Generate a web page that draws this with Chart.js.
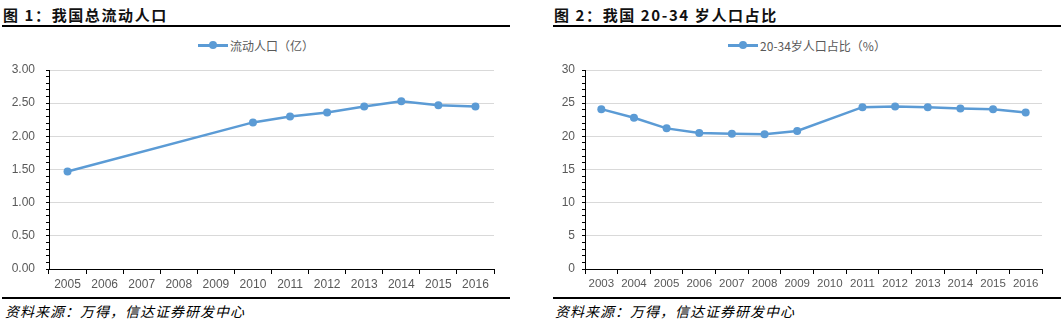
<!DOCTYPE html>
<html>
<head>
<meta charset="utf-8">
<script src="https://cdn.jsdelivr.net/npm/chart.js@4.4.0/dist/chart.umd.min.js"></script>
<style>
    body { margin: 0; background: #fff; width: 1061px; height: 321px; position: relative; overflow: hidden; }
    .titulo { position: absolute; top: 4px; font-family: "Noto Sans CJK SC", sans-serif; font-weight: bold; font-size: 15px; letter-spacing: 1.6px; color: #111; }
    .linha { position: absolute; height: 2px; background: #000; }
    .fonte { position: absolute; top: 301px; font-family: "Noto Sans CJK SC", serif; font-style: italic; font-size: 14px; letter-spacing: 1px; color: #000; }
    .caixa { position: absolute; }
    .legenda { position: absolute; top: 36px; height: 18px; display: flex; justify-content: center; align-items: center;
               font-family: "Noto Sans CJK SC", sans-serif; font-size: 12px; color: #595959; }
    .icone { position: relative; display: inline-block; width: 30px; height: 3px; background: #5b9bd5; margin-right: 2px; }
    .icone::after { content: ""; position: absolute; left: 11px; top: -2.5px; width: 8px; height: 8px; border-radius: 50%; background: #5b9bd5; }
</style>
</head>
<body>
<div class="titulo" style="left:3px;">图 1：我国总流动人口</div>
<div class="linha" style="left:2px; width:508px; top:25px;"></div>
<div class="titulo" style="left:554px;">图 2：我国 20-34 岁人口占比</div>
<div class="linha" style="left:553px; width:508px; top:25px;"></div>

<div class="legenda" id="legendaFluxo" style="left:0px; width:512px;"></div>
<div class="legenda" id="legendaJovens" style="left:553px; width:508px;"></div>

<div class="caixa" style="left:0px; top:27px; width:510px; height:273px;"><canvas id="graficoFluxo"></canvas></div>
<div class="caixa" style="left:553px; top:27px; width:508px; height:273px;"><canvas id="graficoJovens"></canvas></div>

<div class="linha" style="left:2px; width:508px; top:297px;"></div>
<div class="linha" style="left:553px; width:508px; top:297px;"></div>
<div class="fonte" style="left:5px;">资料来源：万得，信达证券研发中心</div>
<div class="fonte" style="left:555px;">资料来源：万得，信达证券研发中心</div>

<script>
// dados do grafico 1 (sem valores para 2006-2009)
var anosFluxo = ['2005', '2006', '2007', '2008', '2009', '2010', '2011', '2012', '2013', '2014', '2015', '2016'];
var populacaoFlutuante = [1.47, null, null, null, null, 2.21, 2.30, 2.36, 2.45, 2.53, 2.47, 2.45];

// dados do grafico 2 (sem valor para 2010)
var anosJovens = ['2003', '2004', '2005', '2006', '2007', '2008', '2009', '2010', '2011', '2012', '2013', '2014', '2015', '2016'];
var parcelaJovens = [24.1, 22.8, 21.2, 20.5, 20.4, 20.3, 20.8, null, 24.4, 24.5, 24.4, 24.2, 24.1, 23.6];

var corLinha = '#5b9bd5';
var corTexto = '#595959';

function ehMultiplo(valor, passo) {
    return Math.abs(valor / passo - Math.round(valor / passo)) < 1e-6;
}

// legenda em HTML, montada a partir do label do dataset
function montarLegenda(idLegenda, grafico) {
    var alvo = document.getElementById(idLegenda);
    grafico.data.datasets.forEach(function(ds) {
        var icone = document.createElement('span');
        icone.className = 'icone';
        var texto = document.createElement('span');
        texto.textContent = ds.label;
        alvo.appendChild(icone);
        alvo.appendChild(texto);
    });
}

function criarGrafico(idCanvas, rotulos, valores, legenda, cfg) {
    var ctx = document.getElementById(idCanvas).getContext('2d');
    return new Chart(ctx, {
        type: 'line',
        data: {
            labels: rotulos,
            datasets: [{
                label: legenda,
                data: valores,
                borderColor: corLinha,
                backgroundColor: corLinha,
                borderWidth: 2.5,
                pointRadius: 4,
                pointBackgroundColor: corLinha,
                pointBorderWidth: 0,
                spanGaps: true,
                tension: 0,
                fill: false
            }]
        },
        options: {
            responsive: true,
            maintainAspectRatio: false,
            animation: false,
            layout: { padding: { top: 43, right: cfg.direita, left: 0, bottom: 0 } },
            plugins: {
                tooltip: { enabled: false },
                legend: { display: false }
            },
            scales: {
                x: {
                    offset: true,
                    grid: { offset: true, drawOnChartArea: false, tickLength: 5, tickColor: '#000' },
                    border: { color: '#000', width: 1 },
                    ticks: { color: corTexto, font: { family: 'Liberation Sans', size: cfg.fonteX }, maxRotation: 0, autoSkip: false, padding: 3 },
                    afterFit: function(escala) { escala.height = 31; }
                },
                y: {
                    min: 0,
                    max: cfg.maximo,
                    border: { color: '#000', width: 1 },
                    grid: {
                        color: function(c) { return ehMultiplo(c.tick.value, cfg.passo) ? '#d9d9d9' : 'rgba(0,0,0,0)'; },
                        tickColor: '#000',
                        tickLength: 3
                    },
                    ticks: {
                        stepSize: cfg.passoMenor,
                        autoSkip: false,
                        color: corTexto,
                        font: { family: 'Liberation Sans', size: 12 },
                        padding: cfg.recuoY,
                        callback: function(v) {
                            if (!ehMultiplo(v, cfg.passo)) return '';
                            return cfg.decimais ? v.toFixed(2) : Math.round(v).toString();
                        }
                    },
                    afterFit: function(escala) { escala.width = cfg.larguraY; }
                }
            }
        }
    });
}

var graficoFluxo = criarGrafico('graficoFluxo', anosFluxo, populacaoFlutuante, '流动人口（亿）',
    { maximo: 3, passo: 0.5, passoMenor: 0.1, decimais: true, larguraY: 49, direita: 16, fonteX: 12, recuoY: 11 });
var graficoJovens = criarGrafico('graficoJovens', anosJovens, parcelaJovens, '20-34岁人口占比（%）',
    { maximo: 30, passo: 5, passoMenor: 1, decimais: false, larguraY: 32, direita: 19, fonteX: 11.5, recuoY: 7 });

montarLegenda('legendaFluxo', graficoFluxo);
montarLegenda('legendaJovens', graficoJovens);
</script>
</body>
</html>
